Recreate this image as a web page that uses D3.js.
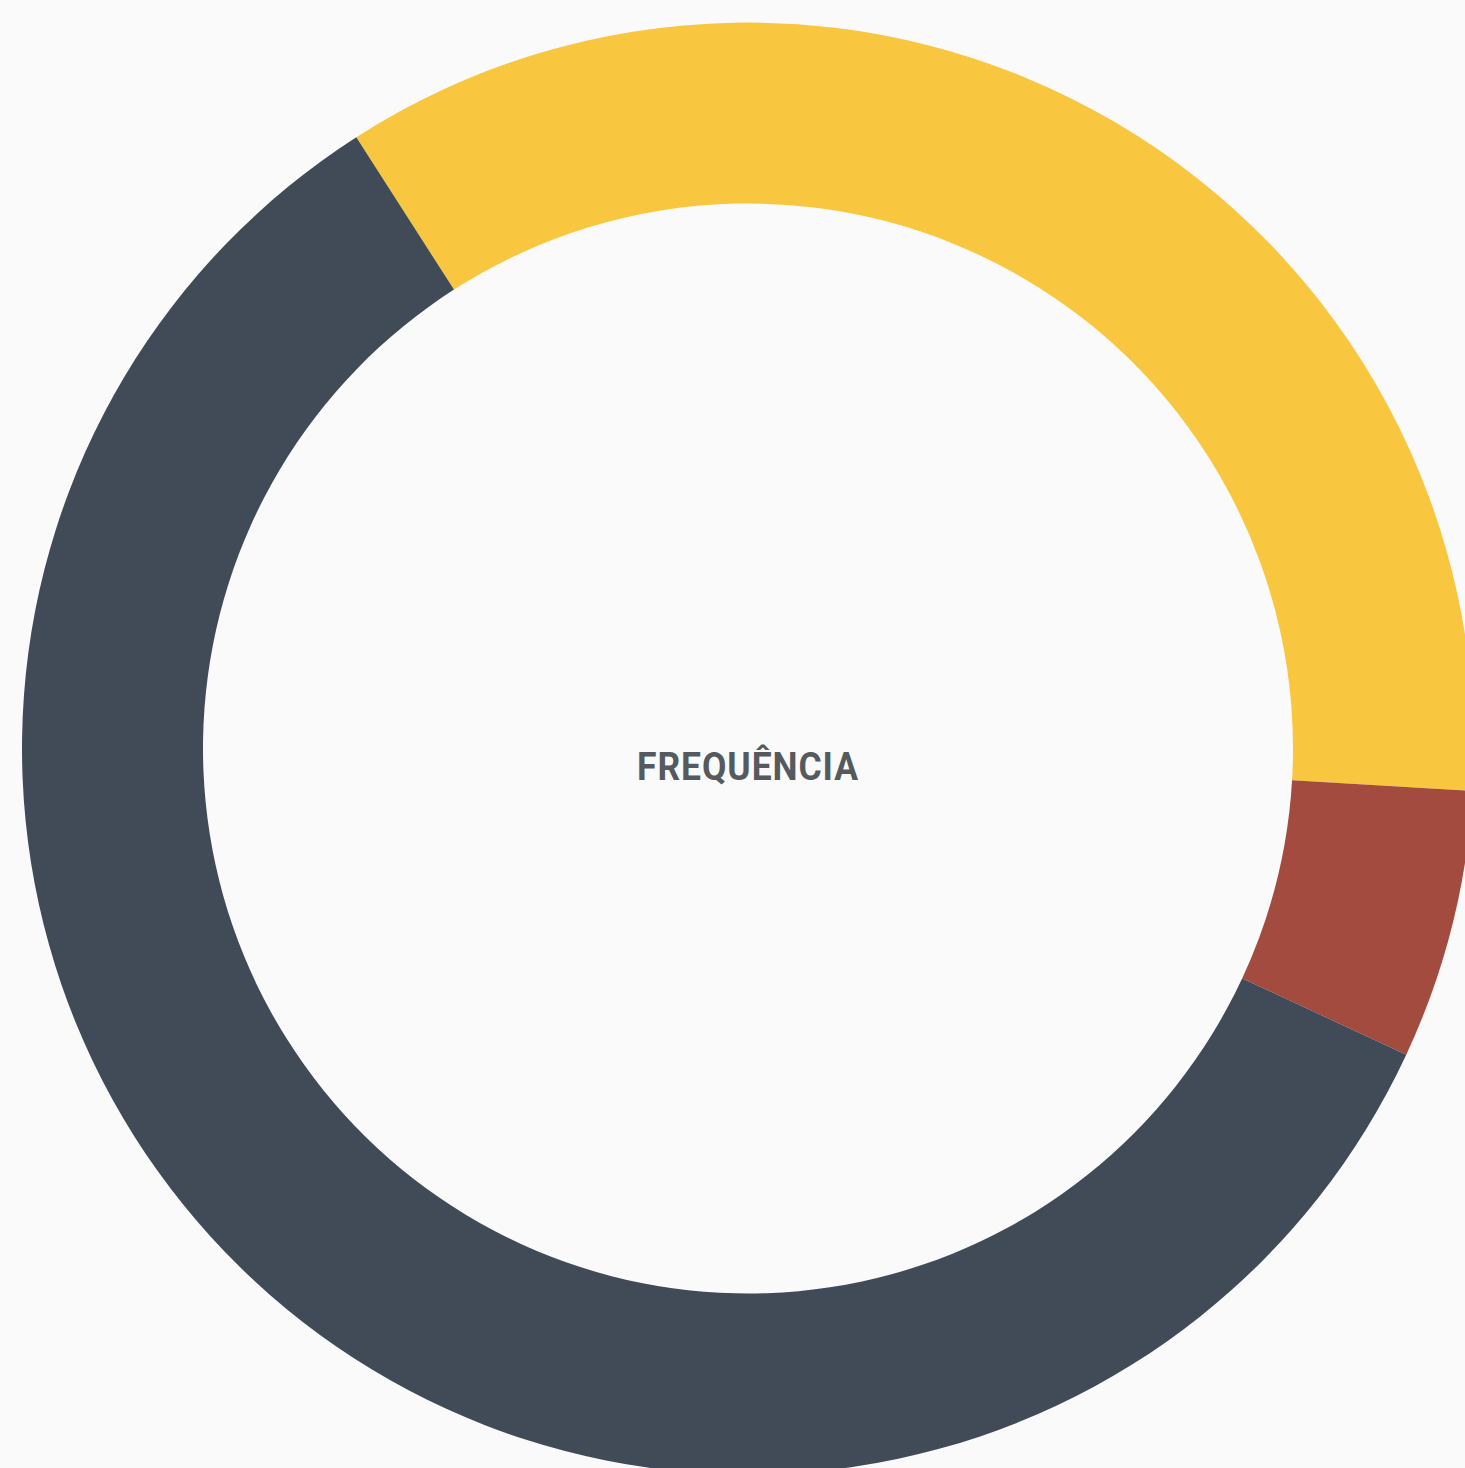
<!DOCTYPE html>
<html>
<head>
<meta charset="utf-8">
<script src="https://cdn.jsdelivr.net/npm/d3@7"></script>
<style>
  html, body { margin: 0; padding: 0; background: #fafafa; overflow: hidden; }
  svg { display: block; }
</style>
</head>
<body>
<svg id="chart"></svg>
<script>
// values (percent of total)
const categories = ["Categoria 1", "Categoria 2", "Categoria 3"];
const values = [35, 6, 59];
const colors = ["#f8c73f", "#a34b3f", "#414b58"];
const centerLabel = "FREQUÊNCIA";

const width = 1465,
  height = 1468;
const cx = 748,
  cy = 748.5,
  outerRadius = 726,
  innerRadius = 545;

const svg = d3.select("#chart").attr("width", width).attr("height", height);

svg
  .append("rect")
  .attr("width", width)
  .attr("height", height)
  .attr("fill", "#fafafa");

const g = svg.append("g").attr("transform", `translate(${cx},${cy})`);

const data = categories.map((c, i) => ({ name: c, value: values[i] }));

const pie = d3
  .pie()
  .sort(null)
  .value((d) => d.value)
  .startAngle((-32.65 * Math.PI) / 180)
  .endAngle(((360 - 32.65) * Math.PI) / 180);

const arc = d3.arc().innerRadius(innerRadius).outerRadius(outerRadius);

const color = d3.scaleOrdinal().domain(categories).range(colors);

g.selectAll("path")
  .data(pie(data))
  .join("path")
  .attr("d", arc)
  .attr("fill", (d) => color(d.data.name));

g.append("text")
  .attr("x", 0)
  .attr("y", 31)
  .attr("text-anchor", "middle")
  .attr("font-family", "Roboto, 'DejaVu Sans Condensed', sans-serif")
  .attr("font-weight", 700)
  .attr("font-size", 38)
  .attr("letter-spacing", 1)
  .attr("fill", "#555a5e")
  .attr("textLength", 222)
  .attr("lengthAdjust", "spacingAndGlyphs")
  .text(centerLabel);
</script>
</body>
</html>
